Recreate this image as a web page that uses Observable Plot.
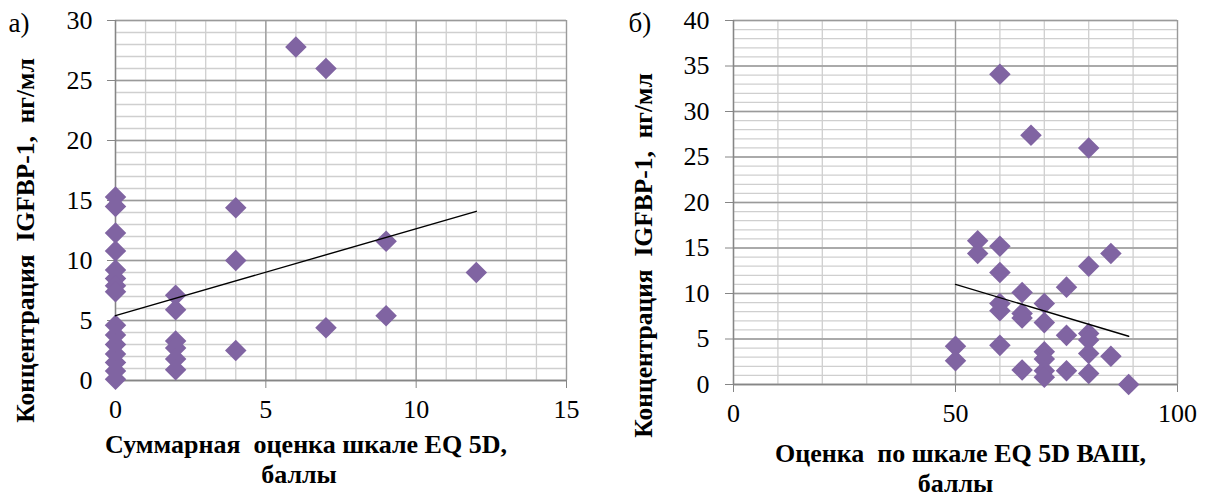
<!DOCTYPE html>
<html>
<head>
<meta charset="utf-8">
<script src="https://cdn.jsdelivr.net/npm/d3@7"></script>
<script src="https://cdn.jsdelivr.net/npm/@observablehq/plot@0.6"></script>
<style>
  body { margin: 0; background: #fff; }
  #wrap { display: flex; width: 1206px; height: 500px; }
  #wrap svg { display: block; background: #fff; font-family: "Liberation Serif", serif !important; }
  #wrap svg text { font-family: "Liberation Serif", serif !important; }
</style>
</head>
<body>
<div id="wrap"></div>
<script>
// ---- Panel a) data ----
const aX = [0,0,0,0,0,0,0,0,0,0,0,0,0,0,0, 2,2,2,2,2,2, 4,4,4, 6, 7,7, 9,9, 12];
const aY = [15.3,14.5,12.3,10.8,9.2,8.5,7.9,7.4,4.6,3.8,3.0,2.2,1.5,0.8,0.1,
            7.1,5.9,3.3,2.7,1.8,0.9, 14.4,10.0,2.5, 27.8, 26.0,4.4, 11.6,5.4, 9.0];
const aTrendX = [0, 12];
const aTrendY = [5.4, 14.1];
const aXTicks = [0, 5, 10, 15];
const aYTicks = [0, 5, 10, 15, 20, 25, 30];

// ---- Panel б) data ----
const bX = [50,50,55,55,60,60,60,60,60,60,65,65,65,65,67,70,70,70,70,70,70,75,75,75,80,80,80,80,80,80,85,85,89];
const bY = [4.2,2.6,15.8,14.4,34.1,15.2,12.3,8.9,8.1,4.3,10.1,7.8,7.3,1.6,27.4,8.9,6.8,3.6,2.8,1.5,0.8,10.7,5.4,1.5,26.0,13.0,5.6,4.9,3.4,1.2,14.4,3.1,0.0];
const bTrendX = [50, 89];
const bTrendY = [11.0, 5.3];
const bXTicks = [0, 50, 100];
const bYTicks = [0, 5, 10, 15, 20, 25, 30, 35, 40];

const labels = {
  aPanel: "а)", bPanel: "б)",
  yLabel: "Концентрация\u00a0 IGFBP-1,\u00a0 нг/мл",
  aX1: "Суммарная\u00a0 оценка шкале EQ 5D,",
  bX1: "Оценка\u00a0 по шкале EQ 5D ВАШ,",
  x2: "баллы"
};

const PURPLE = "#8064A2";
const MINOR = "#cfcfcf";
const MAJOR = "#9a9a9a";
const AXIS = "#868686";
const FONT = "Liberation Serif";

function panel(o) {
  const pts = o.xs.map((x, i) => ({x, y: o.ys[i]}));
  const trend = o.tx.map((x, i) => ({x, y: o.ty[i]}));
  return Plot.plot({
    width: 603, height: 500,
    marginLeft: o.ml, marginRight: o.mr, marginTop: 20, marginBottom: o.mb,
    style: "font-family: 'Liberation Serif', serif; font-size: 24px; color: black; background: white; overflow: visible;",
    x: {domain: o.xDomain},
    y: {domain: o.yDomain},
    marks: [
      Plot.gridX(o.minorX, {stroke: MINOR, strokeOpacity: 1, strokeWidth: 1.3}),
      Plot.gridY(o.minorY, {stroke: MINOR, strokeOpacity: 1, strokeWidth: 1.3}),
      Plot.gridX(o.majorX, {stroke: MAJOR, strokeOpacity: 1, strokeWidth: 1.3}),
      Plot.gridY(o.yTicks, {stroke: MAJOR, strokeOpacity: 1, strokeWidth: 1.3}),
      Plot.ruleX([o.xDomain[0]], {stroke: AXIS, strokeWidth: 1.5}),
      Plot.ruleY([o.yDomain[0]], {stroke: AXIS, strokeWidth: 1.5}),
      Plot.axisX(o.xTicks, {tickSize: 8, tickPadding: 11, stroke: AXIS, fill: "black", fontSize: 26, fontFamily: FONT, label: null}),
      Plot.axisY(o.yTicks, {tickSize: 8, tickPadding: o.ytp, stroke: AXIS, fill: "black", fontSize: 26, fontFamily: FONT, label: null}),
      Plot.dot(pts, {x: "x", y: "y", symbol: "diamond2", r: 9.7, fill: PURPLE, stroke: null}),
      Plot.line(trend, {x: "x", y: "y", stroke: "black", strokeWidth: 1.4}),
      Plot.text([o.panel], {frameAnchor: "top-left", textAnchor: "start", dx: o.pdx, dy: -8, fontSize: 27, fontFamily: FONT}),
      Plot.text([labels.yLabel], {frameAnchor: "left", textAnchor: "middle", rotate: -90, dx: o.ydx, dy: o.ydy, fontWeight: "bold", fontSize: 25.5, fontFamily: FONT}),
      Plot.text([o.x1], {frameAnchor: "bottom", textAnchor: "middle", dx: o.xdx, dy: o.x1dy, fontWeight: "bold", fontSize: 26, fontFamily: FONT}),
      Plot.text([labels.x2], {frameAnchor: "bottom", textAnchor: "middle", dx: o.xdx2, dy: o.x2dy, fontWeight: "bold", fontSize: 26, fontFamily: FONT})
    ]
  });
}

const wrap = document.getElementById("wrap");
wrap.append(panel({
  xs: aX, ys: aY, tx: aTrendX, ty: aTrendY,
  ml: 115, mr: 37, mb: 120, ytp: 15,
  xDomain: [0, 15], yDomain: [0, 30],
  minorX: d3.range(0, 16, 1), minorY: d3.range(0, 31, 1),
  majorX: [5, 10, 15], xTicks: aXTicks, yTicks: aYTicks,
  panel: labels.aPanel, pdx: -107,
  ydx: -90, ydy: 40,
  x1: labels.aX1, xdx: -35, xdx2: -42, x1dy: 72, x2dy: 102
}));
wrap.append(panel({
  xs: bX, ys: bY, tx: bTrendX, ty: bTrendY,
  ml: 130, mr: 29, mb: 116, ytp: 16,
  xDomain: [0, 100], yDomain: [0, 40],
  minorX: d3.range(0, 101, 10), minorY: d3.range(0, 41, 1),
  majorX: [50, 100], xTicks: bXTicks, yTicks: bYTicks,
  panel: labels.bPanel, pdx: -105,
  ydx: -90, ydy: 53,
  x1: labels.bX1, xdx: 5, xdx2: 0, x1dy: 77, x2dy: 107
}));
</script>
</body>
</html>
